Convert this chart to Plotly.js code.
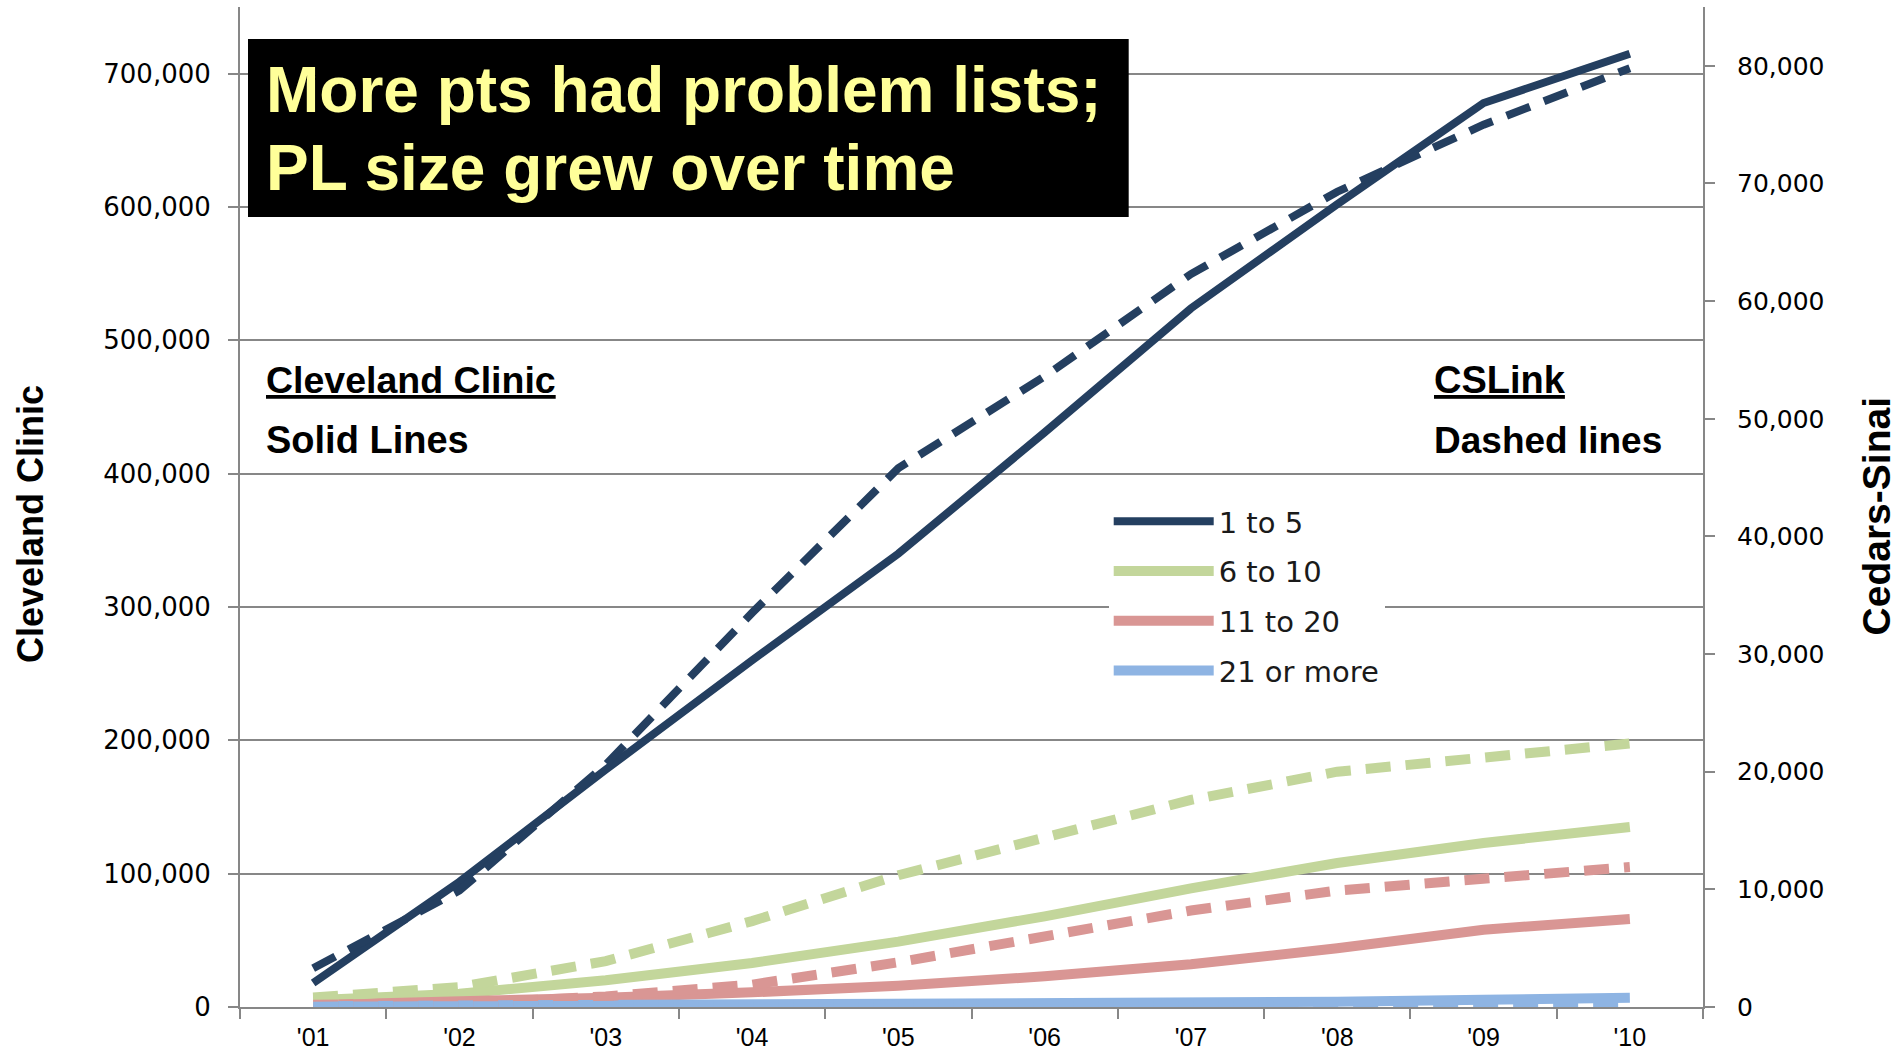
<!DOCTYPE html>
<html>
<head>
<meta charset="utf-8">
<script src="https://cdn.plot.ly/plotly-3.0.1.min.js"></script>
<style>
  html, body { margin: 0; padding: 0; background: #ffffff; }
  #chart { width: 1901px; height: 1054px; }
</style>
</head>
<body>
<div id="chart"></div>
<script>
// ---- data ----
const years = ["'01", "'02", "'03", "'04", "'05", "'06", "'07", "'08", "'09", "'10"];
const sizeGroups = ["1 to 5", "6 to 10", "11 to 20", "21 or more"];

// Cleveland Clinic (left axis, solid lines)
const ccOneToFive   = [18000, 94000, 178000, 260000, 340000, 431000, 524000, 602000, 678000, 715000];
const ccSixToTen    = [5000, 10000, 20000, 33000, 49000, 68000, 89000, 108000, 123000, 135000];
const ccElevenTo20  = [1500, 4000, 7000, 11000, 16000, 23000, 32000, 44000, 58000, 66000];
const cc21OrMore    = [600, 900, 1200, 1500, 1800, 2200, 3000, 3900, 5400, 7000];

// Cedars-Sinai CSLink (right axis, dashed lines)
const csOneToFive   = [3300, 9900, 20600, 33500, 45800, 53600, 62300, 69300, 75000, 79800];
const csSixToTen    = [800, 1700, 3900, 7300, 11200, 14400, 17600, 20000, 21100, 22400];
const csElevenTo20  = [200, 300, 900, 1900, 3800, 5900, 8200, 9900, 10900, 11900];
const cs21OrMore    = [30, 50, 70, 90, 110, 140, 180, 230, 280, 330];

const colors = ["#243F60", "#C3D69B", "#D99694", "#8EB4E3"];

const ccSeries = [ccOneToFive, ccSixToTen, ccElevenTo20, cc21OrMore];
const csSeries = [csOneToFive, csSixToTen, csElevenTo20, cs21OrMore];

const traces = [];
ccSeries.forEach((vals, i) => {
  traces.push({
    x: years, y: vals, type: 'scatter', mode: 'lines',
    name: sizeGroups[i], legendgroup: 'g' + i,
    line: { color: colors[i], width: i === 0 ? 8 : 10 },
    xaxis: 'x', yaxis: 'y', hoverinfo: 'skip'
  });
});
csSeries.forEach((vals, i) => {
  traces.push({
    x: years, y: vals, type: 'scatter', mode: 'lines',
    name: sizeGroups[i] + ' (CSLink)', legendgroup: 'g' + i, showlegend: false,
    line: { color: colors[i], width: i === 0 ? 8 : 10, dash: '25px,15px' },
    xaxis: 'x', yaxis: 'y2', hoverinfo: 'skip'
  });
});

const gray = '#878787';
const L = 240, R = 1703.5, T = 7, B = 1007;
const px = v => (v - L) / (R - L);
const py = v => (B - v) / (B - T);

const layout = {
  width: 1901, height: 1054,
  margin: { l: 240, r: 197.5, t: 7, b: 47, pad: 0 },
  paper_bgcolor: '#ffffff', plot_bgcolor: '#ffffff',
  font: { family: 'DejaVu Sans, sans-serif', color: '#000000' },
  showlegend: true,
  legend: {
    x: px(1109), y: py(496), xanchor: 'left', yanchor: 'top',
    bgcolor: '#ffffff', borderwidth: 0,
    font: { family: 'DejaVu Sans, sans-serif', size: 29, color: '#1a1a1a' },
    itemwidth: 100, traceorder: 'grouped', tracegroupgap: 9
  },
  xaxis: {
    type: 'category', range: [-0.5, 9.5], tickson: 'boundaries',
    ticks: 'outside', ticklen: 10, tickwidth: 2, tickcolor: gray,
    showline: true, linecolor: gray, linewidth: 2, showgrid: false, zeroline: false,
    tickfont: { family: 'Liberation Sans, Arial, sans-serif', size: 25, color: '#000' },
    ticklabelstandoff: 7, fixedrange: true
  },
  yaxis: {
    range: [0, 750000], dtick: 100000, tick0: 0, tickformat: ',d',
    ticks: 'outside', ticklen: 10, tickwidth: 2, tickcolor: gray,
    showline: true, linecolor: gray, linewidth: 2,
    showgrid: true, gridcolor: gray, gridwidth: 2, zeroline: false,
    tickfont: { family: 'DejaVu Sans, sans-serif', size: 26, color: '#000' },
    ticklabelstandoff: 12,
    fixedrange: true
  },
  yaxis2: {
    overlaying: 'y', side: 'right', anchor: 'x',
    range: [0, 85000], dtick: 10000, tick0: 0, tickformat: ',d',
    ticks: 'outside', ticklen: 10, tickwidth: 2, tickcolor: gray,
    showline: true, linecolor: gray, linewidth: 2,
    showgrid: false, zeroline: false,
    tickfont: { family: 'DejaVu Sans, sans-serif', size: 25, color: '#000' },
    ticklabelstandoff: 17,
    fixedrange: true
  },
  shapes: [
    { type: 'rect', xref: 'paper', yref: 'paper',
      x0: px(248), x1: px(1129), y0: py(217), y1: py(39),
      fillcolor: '#000000', line: { width: 0 }, layer: 'above' }
  ],
  annotations: [
    // axis titles
    { xref: 'paper', yref: 'paper', x: px(30), y: py(524), xanchor: 'center', yanchor: 'middle',
      text: '<b>Cleveland Clinic</b>', textangle: -90, showarrow: false,
      font: { family: 'Liberation Sans, Arial, sans-serif', size: 36, color: '#000' } },
    { xref: 'paper', yref: 'paper', x: px(1877), y: py(516), xanchor: 'center', yanchor: 'middle',
      text: '<b>Cedars-Sinai</b>', textangle: -90, showarrow: false,
      font: { family: 'Liberation Sans, Arial, sans-serif', size: 39, color: '#000' } },
    // headline box text
    { xref: 'paper', yref: 'paper', x: px(264), y: py(90), xanchor: 'left', yanchor: 'middle',
      text: '<b>More pts had problem lists;</b>', showarrow: false,
      font: { family: 'Liberation Sans, Arial, sans-serif', size: 64, color: '#FFFF99' } },
    { xref: 'paper', yref: 'paper', x: px(264), y: py(168), xanchor: 'left', yanchor: 'middle',
      text: '<b>PL size grew over time</b>', showarrow: false,
      font: { family: 'Liberation Sans, Arial, sans-serif', size: 64, color: '#FFFF99' } },
    // in-plot notes
    { xref: 'paper', yref: 'paper', x: px(264), y: py(380), xanchor: 'left', yanchor: 'middle',
      text: '<b><u>Cleveland Clinic</u></b>', showarrow: false,
      font: { family: 'Liberation Sans, Arial, sans-serif', size: 37.5, color: '#000' } },
    { xref: 'paper', yref: 'paper', x: px(264), y: py(440), xanchor: 'left', yanchor: 'middle',
      text: '<b>Solid Lines</b>', showarrow: false,
      font: { family: 'Liberation Sans, Arial, sans-serif', size: 38, color: '#000' } },
    { xref: 'paper', yref: 'paper', x: px(1432), y: py(380), xanchor: 'left', yanchor: 'middle',
      text: '<b><u>CSLink</u></b>', showarrow: false,
      font: { family: 'Liberation Sans, Arial, sans-serif', size: 38, color: '#000' } },
    { xref: 'paper', yref: 'paper', x: px(1432), y: py(440), xanchor: 'left', yanchor: 'middle',
      text: '<b>Dashed lines</b>', showarrow: false,
      font: { family: 'Liberation Sans, Arial, sans-serif', size: 37, color: '#000' } }
  ]
};

Plotly.newPlot('chart', traces, layout, { staticPlot: true, displayModeBar: false });
</script>
</body>
</html>
